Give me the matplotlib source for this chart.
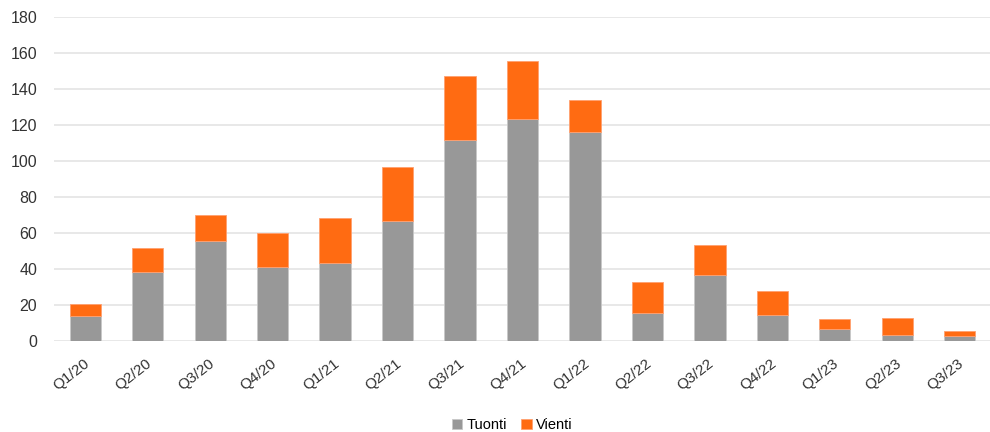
import matplotlib
matplotlib.use("Agg")
import matplotlib.pyplot as plt
import matplotlib.transforms as mtransforms
import numpy as np

categories = ["Q1/20", "Q2/20", "Q3/20", "Q4/20", "Q1/21", "Q2/21", "Q3/21", "Q4/21",
              "Q1/22", "Q2/22", "Q3/22", "Q4/22", "Q1/23", "Q2/23", "Q3/23"]
tuonti = [13.7, 38.3, 55.4, 41.3, 43.5, 66.7, 111.5, 123.1, 116.1, 15.7, 36.9, 14.6, 6.5, 3.5, 2.6]
totals = [20.7, 51.7, 69.8, 59.8, 68.3, 96.5, 147.2, 155.6, 133.7, 32.8, 53.5, 27.6, 12.4, 12.8, 5.7]
vienti = [t - g for t, g in zip(totals, tuonti)]
yticks = [0, 20, 40, 60, 80, 100, 120, 140, 160, 180]

plt.rcParams['font.family'] = ['Liberation Sans', 'DejaVu Sans']

fig = plt.figure(figsize=(9.9, 4.32), dpi=100)
ax = fig.add_axes([54/990, 1 - 341/432, 937/990, 324/432])

x = np.arange(len(categories))
ax.bar(x, tuonti, width=0.5, color="#989898", edgecolor="#c8c8c8", linewidth=0.6, label="Tuonti", zorder=3)
ax.bar(x, vienti, width=0.5, bottom=tuonti, color="#ff6b12", edgecolor="#ffa070", linewidth=0.6, label="Vienti", zorder=3)

ax.set_xlim(-0.5, len(categories) - 0.5)
ax.set_ylim(0, 180)
ax.set_yticks(yticks)
ax.set_yticklabels([str(v) for v in yticks], fontsize=11.5, color="#333333")
ax.grid(axis="y", color="#e6e6e6", linewidth=1.3, zorder=0)
ax.set_axisbelow(True)
for s in ax.spines.values():
    s.set_visible(False)
ax.tick_params(axis="both", length=0)
ax.tick_params(axis="y", pad=12)
ax.set_xticks(x)
ax.set_xticklabels(categories, rotation=38, ha="right", rotation_mode="anchor", fontsize=11, color="#333333")
ax.tick_params(axis="x", pad=11)
offset = mtransforms.ScaledTranslation(-2/100, 0, fig.dpi_scale_trans)
for lbl in ax.get_xticklabels():
    lbl.set_transform(lbl.get_transform() + offset)

ax.legend(loc="center", bbox_to_anchor=(0.489, -0.26), ncol=2, frameon=False, fontsize=10.5,
          handlelength=0.7, handleheight=0.7, handletextpad=0.3, columnspacing=1.0)

fig.savefig("out.png", dpi=100)
